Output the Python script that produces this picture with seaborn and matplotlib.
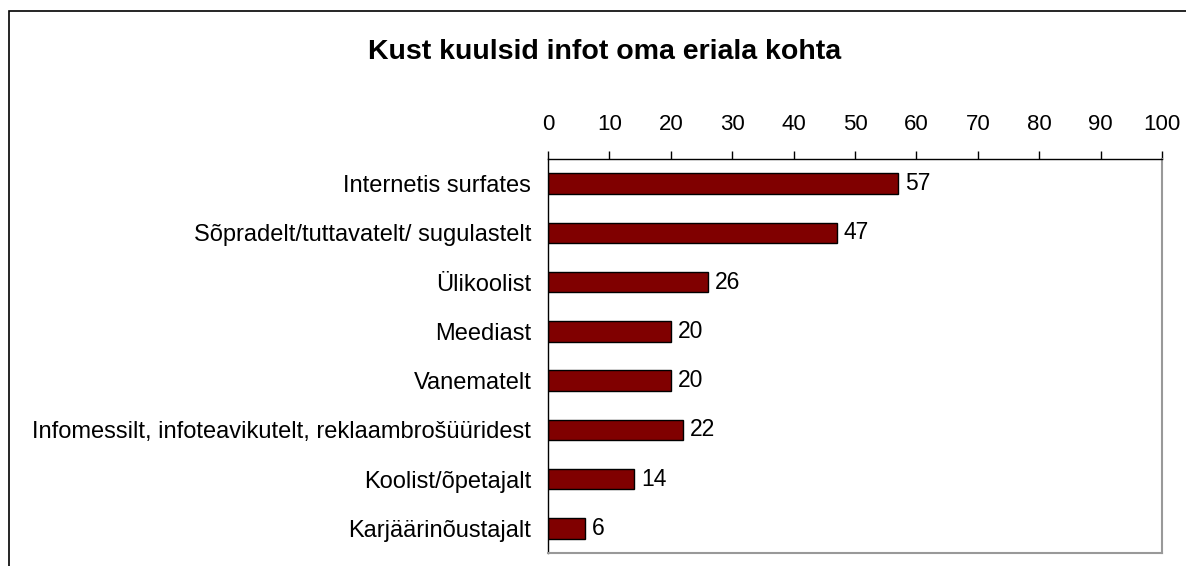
import matplotlib
matplotlib.use("Agg")
import matplotlib.pyplot as plt
import seaborn as sns
import pandas as pd
from matplotlib.patches import Rectangle

# chart data
categories = [
    "Internetis surfates",
    "Sõpradelt/tuttavatelt/ sugulastelt",
    "Ülikoolist",
    "Meediast",
    "Vanematelt",
    "Infomessilt, infoteavikutelt, reklaambrošüüridest",
    "Koolist/õpetajalt",
    "Karjäärinõustajalt",
]
values = [57, 47, 26, 20, 20, 22, 14, 6]
x_ticks = [0, 10, 20, 30, 40, 50, 60, 70, 80, 90, 100]
title = "Kust kuulsid infot oma eriala kohta"

df = pd.DataFrame({"source": categories, "pct": values})

sns.set_style("white")
plt.rcParams["font.family"] = ["Liberation Sans", "DejaVu Sans"]
plt.rcParams["text.color"] = "black"
plt.rcParams["xtick.color"] = "black"
plt.rcParams["ytick.color"] = "black"

fig = plt.figure(figsize=(11.86, 5.66), dpi=100)
W, H = 1186, 566
ax = fig.add_axes([548 / W, 1 - 553 / H, (1162 - 548) / W, (553 - 159) / H])

sns.barplot(data=df, y="source", x="pct", orient="h", color="#800000",
            edgecolor="black", linewidth=1.0, width=0.42, saturation=1, ax=ax)

ax.set_xlim(0, 100)
ax.set_ylim(len(categories) - 0.5, -0.5)
ax.set_xlabel("")
ax.set_ylabel("")

# x axis on top
ax.xaxis.tick_top()
ax.set_xticks(x_ticks)
ax.set_xticklabels([str(t) for t in x_ticks], fontsize=16)
ax.tick_params(axis="x", direction="out", length=6, width=1, color="black", pad=11)

# y ticks between categories
ax.set_yticks(range(len(categories)))
ax.set_yticklabels(categories, fontsize=17)
ax.tick_params(axis="y", which="major", length=0, pad=12)
ax.set_yticks([i - 0.5 for i in range(len(categories) + 1)], minor=True)
ax.tick_params(axis="y", which="minor", direction="out", length=6, width=1, color="black")

for side in ["left", "top"]:
    ax.spines[side].set_color("black")
    ax.spines[side].set_linewidth(1.0)
for side in ["right", "bottom"]:
    ax.spines[side].set_color("#999999")
    ax.spines[side].set_linewidth(1.5)

for i, v in enumerate(values):
    ax.annotate(str(v), xy=(v, i), xytext=(5, 0), textcoords="offset points",
                va="center", ha="left", fontsize=16.5)

fig.text(605 / W, 1 - 52 / H, title, ha="center", va="center",
         fontsize=20.5, fontweight="bold")

# outer chart frame (cut off at right and bottom)
fig.patches.append(Rectangle((9 / W, -0.1), 1.2, 1.1 - 11 / H, transform=fig.transFigure,
                             fill=False, edgecolor="black", linewidth=1.2))

fig.savefig("out.png", dpi=100)
